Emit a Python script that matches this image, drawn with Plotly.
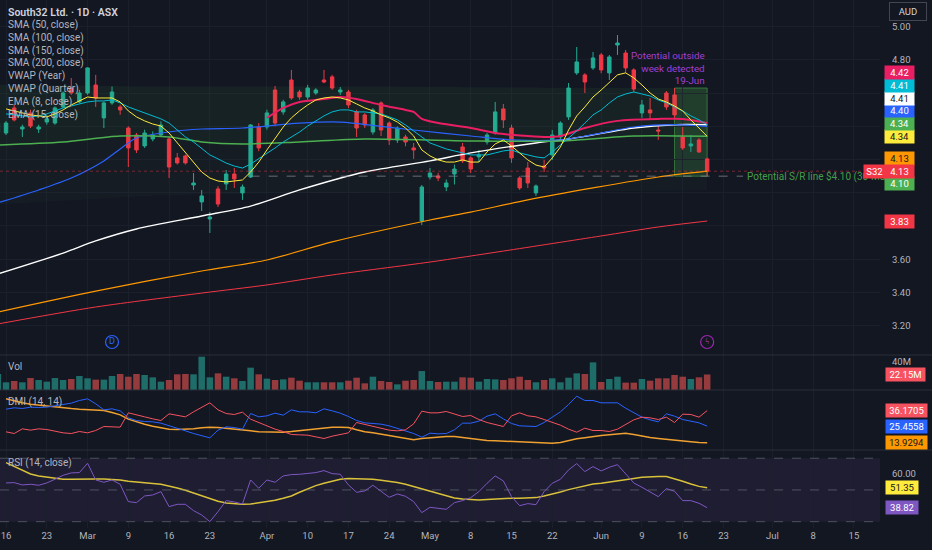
import plotly.graph_objects as go
from plotly.subplots import make_subplots

# ---------------- data ----------------
bar_index = list(range(-1, 87))          # trading-day index, 86 = 19-Jun
ind_index = list(range(0, 87))

opens = [4.366, 4.360, 4.511, 4.384, 4.481, 4.384, 4.426, 4.420, 4.517, 4.631, 4.547,
         4.601, 4.649, 4.451, 4.541, 4.517, 4.390, 4.348, 4.282, 4.324, 4.348,
         4.324, 4.210, 4.222, 4.047, 3.945, 3.842, 4.023, 4.053, 4.113, 3.999,
         4.095, 4.396, 4.396, 4.619, 4.487, 4.679, 4.607, 4.577, 4.601, 4.679,
         4.698, 4.607, 4.607, 4.487, 4.469, 4.366, 4.541, 4.420, 4.318, 4.336,
         4.270, 3.830, 4.095, 4.101, 4.035, 4.113, 4.276, 4.210, 4.216, 4.306,
         4.360, 4.505, 4.390, 4.089, 4.149, 3.999, 4.161, 4.228, 4.336, 4.457,
         4.722, 4.710, 4.752, 4.830, 4.722, 4.890, 4.842, 4.740, 4.481, 4.499,
         4.378, 4.601, 4.589, 4.336, 4.282, 4.318, 4.204]
highs = [4.440, 4.432, 4.530, 4.410, 4.500, 4.410, 4.470, 4.520, 4.610, 4.691, 4.620,
         4.755, 4.710, 4.550, 4.640, 4.530, 4.400, 4.360, 4.380, 4.370, 4.430,
         4.340, 4.240, 4.230, 4.119, 4.017, 3.884, 4.040, 4.137, 4.149, 4.050,
         4.414, 4.420, 4.500, 4.643, 4.560, 4.740, 4.620, 4.650, 4.630, 4.740,
         4.710, 4.637, 4.620, 4.500, 4.480, 4.510, 4.550, 4.430, 4.400, 4.350,
         4.300, 4.047, 4.149, 4.120, 4.080, 4.170, 4.300, 4.220, 4.258, 4.360,
         4.547, 4.535, 4.410, 4.100, 4.185, 4.050, 4.198, 4.378, 4.430, 4.661,
         4.878, 4.720, 4.848, 4.842, 4.830, 4.950, 4.860, 4.750, 4.559, 4.571,
         4.408, 4.613, 4.631, 4.396, 4.348, 4.330, 4.210]
lows = [4.350, 4.348, 4.430, 4.336, 4.390, 4.360, 4.410, 4.410, 4.510, 4.590, 4.540,
        4.590, 4.517, 4.390, 4.530, 4.470, 4.155, 4.240, 4.270, 4.310, 4.340,
        4.089, 4.170, 4.170, 4.017, 3.890, 3.758, 3.914, 4.017, 4.029, 3.957,
        4.089, 4.250, 4.380, 4.400, 4.470, 4.560, 4.560, 4.560, 4.590, 4.660,
        4.620, 4.589, 4.510, 4.336, 4.390, 4.350, 4.342, 4.288, 4.300, 4.280,
        4.204, 3.806, 4.080, 4.070, 4.010, 4.050, 4.180, 4.119, 4.185, 4.290,
        4.350, 4.390, 4.180, 4.017, 4.029, 3.981, 4.125, 4.198, 4.318, 4.439,
        4.710, 4.601, 4.740, 4.720, 4.679, 4.830, 4.722, 4.607, 4.451, 4.439,
        4.318, 4.499, 4.450, 4.258, 4.246, 4.240, 4.100]
closes = [4.420, 4.420, 4.439, 4.396, 4.402, 4.396, 4.445, 4.511, 4.601, 4.601, 4.601,
          4.752, 4.571, 4.541, 4.607, 4.499, 4.270, 4.258, 4.360, 4.348, 4.408,
          4.155, 4.180, 4.180, 4.059, 3.981, 3.854, 3.932, 4.113, 4.083, 4.035,
          4.408, 4.270, 4.481, 4.420, 4.547, 4.571, 4.577, 4.631, 4.619, 4.667,
          4.631, 4.619, 4.529, 4.390, 4.408, 4.499, 4.378, 4.318, 4.390, 4.306,
          4.258, 4.035, 4.119, 4.089, 4.059, 4.143, 4.192, 4.143, 4.228, 4.348,
          4.487, 4.439, 4.210, 4.029, 4.059, 4.041, 4.149, 4.348, 4.420, 4.631,
          4.788, 4.667, 4.812, 4.740, 4.818, 4.902, 4.752, 4.625, 4.529, 4.481,
          4.372, 4.517, 4.469, 4.270, 4.294, 4.246, 4.130]
volume_m = [22.9, 11.0, 12.9, 11.0, 17.1, 14.3, 11.9, 17.1, 14.3, 15.7, 20.0,
            16.7, 14.8, 14.8, 20.0, 22.9, 19.0, 22.9, 21.4, 18.1, 11.9,
            14.3, 22.4, 22.9, 22.4, 47.6, 18.1, 23.8, 19.0, 16.7, 12.9,
            31.9, 22.4, 16.2, 14.3, 15.2, 17.6, 13.3, 11.0, 11.0, 11.0,
            11.0, 11.0, 13.3, 17.6, 9.5, 19.0, 12.9, 11.4, 8.1, 13.3,
            14.3, 27.1, 12.9, 11.4, 11.9, 11.9, 18.1, 17.6, 11.9, 15.7,
            15.2, 14.3, 16.7, 19.0, 14.3, 11.0, 14.3, 16.7, 11.0, 17.6,
            23.8, 22.9, 39.5, 11.4, 15.7, 19.0, 10.5, 10.5, 15.7, 13.3,
            16.7, 16.7, 21.4, 19.0, 15.7, 18.1, 22.15]

ema8 = [4.505, 4.493, 4.481, 4.469, 4.463, 4.457, 4.475, 4.499, 4.529, 4.553,
        4.577, 4.571, 4.571, 4.571, 4.547, 4.493, 4.457, 4.433, 4.414, 4.402,
        4.360, 4.300, 4.240, 4.179, 4.125, 4.089, 4.071, 4.065, 4.071, 4.077,
        4.125, 4.185, 4.258, 4.330, 4.396, 4.451, 4.493, 4.529, 4.559, 4.571,
        4.577, 4.571, 4.559, 4.535, 4.511, 4.493, 4.469, 4.451, 4.426, 4.390,
        4.342, 4.258, 4.222, 4.198, 4.185, 4.185, 4.198, 4.185, 4.185, 4.246,
        4.294, 4.318, 4.282, 4.240, 4.198, 4.167, 4.155, 4.210, 4.276, 4.378,
        4.463, 4.517, 4.577, 4.619, 4.667, 4.710, 4.722, 4.692, 4.649, 4.601,
        4.565, 4.547, 4.523, 4.493, 4.439, 4.390, 4.340]
ema15 = [4.475, 4.469, 4.463, 4.457, 4.463, 4.475, 4.493, 4.511, 4.523, 4.535,
         4.547, 4.553, 4.553, 4.559, 4.541, 4.517, 4.499, 4.481, 4.463, 4.445,
         4.420, 4.378, 4.336, 4.306, 4.264, 4.228, 4.204, 4.179, 4.161, 4.149,
         4.173, 4.204, 4.240, 4.270, 4.306, 4.336, 4.366, 4.402, 4.433, 4.463,
         4.487, 4.499, 4.499, 4.487, 4.487, 4.481, 4.475, 4.457, 4.439, 4.408,
         4.372, 4.336, 4.300, 4.282, 4.264, 4.252, 4.240, 4.228, 4.228, 4.228,
         4.240, 4.252, 4.258, 4.240, 4.228, 4.216, 4.210, 4.246, 4.288, 4.330,
         4.372, 4.420, 4.469, 4.499, 4.541, 4.577, 4.595, 4.607, 4.595, 4.583,
         4.559, 4.541, 4.517, 4.493, 4.463, 4.439, 4.410]

sma50_x = [-1, 4, 8, 12, 14, 16, 20, 24, 29, 36, 41, 46, 50, 57, 62, 68, 72, 77, 82, 86]
sma50_y = [3.939, 4.017, 4.089, 4.192, 4.264, 4.330, 4.366, 4.384, 4.390, 4.420, 4.426,
           4.400, 4.378, 4.342, 4.318, 4.318, 4.350, 4.396, 4.410, 4.400]
sma100_x = [-1, 7, 11, 16, 24, 30, 36, 44, 52, 57, 65, 69, 77, 82, 86]
sma100_y = [3.511, 3.637, 3.710, 3.782, 3.860, 3.920, 4.017, 4.125, 4.192, 4.240,
            4.300, 4.324, 4.390, 4.410, 4.410]
sma150_x = [-1, 11, 24, 32, 40, 52, 57, 64, 72, 80, 86]
sma150_y = [3.282, 3.408, 3.529, 3.595, 3.704, 3.836, 3.884, 3.957, 4.029, 4.095, 4.130]
sma200_x = [-1, 11, 24, 32, 40, 52, 61, 73, 80, 86]
sma200_y = [3.210, 3.312, 3.396, 3.445, 3.505, 3.583, 3.649, 3.740, 3.794, 3.830]
vwap_year_x = [-1, 7, 14, 20, 24, 29, 36, 44, 57, 68, 77, 86]
vwap_year_y = [4.288, 4.306, 4.342, 4.336, 4.306, 4.294, 4.306, 4.324, 4.312, 4.312, 4.342, 4.340]
vwap_band_x = [-1, 10, 20, 32, 45, 60, 75, 86]
vwap_band_upper = [4.650, 4.645, 4.640, 4.640, 4.640, 4.635, 4.632, 4.630]
vwap_band_lower = [3.930, 3.960, 3.985, 3.995, 4.000, 4.005, 4.010, 4.015]
vwap_q_x = [32, 34, 36, 39, 41, 43, 46, 49, 50, 51, 53, 57, 60, 66, 68, 71, 75, 80, 83, 86]
vwap_q_y = [4.451, 4.511, 4.547, 4.565, 4.577, 4.565, 4.529, 4.499, 4.487, 4.445, 4.420,
            4.390, 4.360, 4.336, 4.342, 4.390, 4.433, 4.445, 4.445, 4.420]

dmi_plus = [37.13, 38.05, 37.59, 38.51, 38.28, 38.51, 39.43, 40.35, 41.27, 43.11,
            44.26, 40.81, 36.67, 37.36, 35.98, 31.15, 29.31, 28.62, 28.39, 27.47,
            25.86, 24.25, 22.18, 20.34, 18.73, 17.35, 22.64, 24.94, 24.48, 23.33,
            34.14, 31.84, 32.53, 34.37, 32.99, 36.67, 35.29, 35.29, 34.60, 37.36,
            35.98, 34.37, 32.07, 29.31, 27.70, 27.24, 26.78, 25.63, 24.02, 22.18,
            20.34, 17.81, 20.57, 20.11, 20.34, 22.87, 27.47, 27.47, 28.85, 32.30,
            33.91, 30.46, 27.24, 25.63, 25.40, 25.17, 27.93, 31.61, 35.29, 40.35,
            46.10, 43.11, 43.11, 41.50, 41.50, 41.50, 37.82, 34.83, 31.61, 29.77,
            28.39, 33.91, 32.30, 30.00, 29.08, 27.70, 25.4558]
dmi_minus = [21.49, 20.34, 23.56, 22.64, 23.56, 23.10, 21.95, 20.80, 20.34, 21.72,
             20.80, 22.41, 25.17, 24.71, 24.71, 34.60, 32.99, 31.84, 30.46, 29.31,
             33.91, 32.99, 31.84, 35.29, 38.51, 41.50, 36.67, 34.14, 33.45, 35.06,
             30.23, 27.93, 25.40, 23.33, 21.72, 19.65, 19.42, 19.19, 18.04, 16.89,
             18.50, 19.42, 20.80, 27.93, 26.55, 24.94, 23.56, 22.64, 22.18, 22.87,
             27.01, 35.75, 34.60, 34.60, 35.52, 33.68, 32.07, 32.76, 30.00, 27.93,
             26.55, 25.17, 32.53, 34.60, 32.53, 31.84, 30.00, 28.16, 26.09, 23.33,
             21.26, 24.02, 22.41, 22.41, 21.72, 23.33, 26.55, 29.77, 31.61, 31.15,
             30.00, 31.61, 27.93, 33.68, 33.45, 31.61, 36.1705]
adx = [44.26, 42.65, 41.50, 40.58, 39.89, 39.20, 38.74, 38.05, 37.59, 37.13,
       36.90, 36.67, 36.21, 34.83, 33.22, 30.23, 28.39, 26.78, 25.40, 24.25,
       23.33, 23.10, 23.10, 23.56, 24.25, 24.71, 24.48, 24.02, 23.33, 22.64,
       22.18, 21.49, 21.26, 21.26, 21.26, 21.72, 22.41, 22.87, 23.56, 24.25,
       24.71, 24.71, 24.48, 22.87, 21.49, 20.80, 19.88, 18.96, 18.04, 16.89,
       15.97, 16.89, 17.35, 18.04, 18.27, 18.27, 17.58, 16.89, 15.97, 15.51,
       15.28, 15.05, 14.82, 14.36, 14.13, 13.90, 13.67, 13.67, 14.13, 15.51,
       16.66, 17.35, 18.27, 18.96, 19.42, 20.11, 20.57, 19.65, 18.50, 17.58,
       16.89, 16.20, 15.74, 15.05, 14.59, 14.13, 13.9294]

rsi = [54.42, 54.63, 53.16, 53.58, 52.95, 54.42, 56.74, 59.26, 60.74, 60.95,
       66.84, 56.31, 54.84, 56.31, 53.58, 42.63, 42.00, 46.21, 46.84, 48.95,
       39.47, 40.95, 40.95, 36.95, 34.21, 30.00, 36.32, 43.26, 42.42, 41.16,
       56.31, 51.05, 56.31, 54.84, 58.84, 59.68, 59.89, 60.53, 60.95, 62.21,
       60.31, 59.89, 53.16, 48.53, 49.37, 52.95, 49.16, 45.37, 47.47, 46.00,
       42.63, 35.69, 39.05, 38.21, 37.79, 42.00, 43.26, 45.16, 48.95, 54.21,
       58.84, 55.68, 45.79, 40.11, 41.37, 40.74, 48.95, 54.21, 56.74, 62.63,
       66.63, 61.58, 64.74, 62.00, 64.31, 65.94, 59.89, 54.42, 51.68, 48.95,
       45.79, 50.84, 49.16, 43.26, 43.26, 41.58, 38.82]
rsi_ma = [67.26, 64.74, 62.21, 60.10, 58.84, 58.00, 57.16, 56.74, 56.74, 56.95,
          56.95, 56.95, 56.95, 56.74, 56.31, 55.47, 54.84, 54.42, 54.00, 53.58,
          52.53, 51.26, 49.79, 48.10, 46.42, 44.53, 42.84, 41.79, 41.16, 40.95,
          41.16, 41.79, 42.63, 43.47, 44.74, 46.21, 48.53, 50.63, 52.74, 54.21,
          55.68, 56.74, 57.16, 57.16, 56.95, 56.74, 56.10, 55.47, 54.63, 53.58,
          52.10, 50.63, 49.16, 47.47, 46.21, 44.95, 44.32, 43.90, 43.69, 43.90,
          44.32, 44.74, 44.74, 44.74, 44.95, 45.16, 46.21, 47.26, 48.74, 50.21,
          51.47, 52.74, 53.79, 54.21, 54.84, 55.47, 56.31, 57.16, 58.00, 58.42,
          58.42, 58.42, 57.16, 55.47, 53.74, 52.26, 51.35]

tick_idx = [0, 5, 10, 15, 20, 25, 32, 37, 42, 47, 52, 57, 62, 67, 73, 78, 83, 88, 94, 99, 104]
tick_text = ["16", "23", "Mar", "9", "16", "23", "Apr", "10", "17", "24", "May",
             "8", "15", "22", "Jun", "9", "16", "23", "Jul", "8", "15"]
price_ticks = [3.2, 3.4, 3.6, 3.8, 4.0, 4.2, 4.4, 4.6, 4.8, 5.0]
vol_ticks = [40]
dmi_ticks = [20, 40]
rsi_ticks = [40, 60]

sr_level = 4.10
sr_start_idx = 30          # 30-Mar
week_start_idx = 82        # week of 15-Jun .. 19-Jun
dividend_idx = 13
news_idx = 86

# ---------------- style / geometry ----------------
W, H = 932, 550
ML, MR, MT, MB = 0, 52, 0, 22
PW, PH = W - ML - MR, H - MT - MB
pane_px = [355, 35, 60, 78]
X_RANGE = [-0.74, 107.2]
Y_MAIN = [3.023, 5.161]
Y_VOL = [0, 50]
Y_DMI = [8.97, 50.34]
Y_RSI = [26.0, 75.2]

BG = "#131722"
GRID = "#1b1f2b"
TXT = "#b2b5be"
UP, DN = "#22ab94", "#f23645"
FONT = "Roboto"

fig = make_subplots(rows=4, cols=1, shared_xaxes=True, vertical_spacing=0,
                    row_heights=pane_px)

def line(x, y, color, width=1.0, shape="linear", row=1, **kw):
    fig.add_trace(go.Scatter(x=x, y=y, mode="lines", hoverinfo="skip", showlegend=False,
                             line=dict(color=color, width=width, shape=shape,
                                       smoothing=0.8 if shape == "spline" else None), **kw),
                  row=row, col=1)

# VWAP band fills
line(vwap_band_x, vwap_band_upper, "rgba(0,0,0,0)", 0, "spline")
line(vwap_year_x, vwap_year_y, "rgba(0,0,0,0)", 0, "spline",
     fill="tonexty", fillcolor="rgba(76,175,80,0.075)")
line(vwap_band_x, vwap_band_lower, "rgba(0,0,0,0)", 0, "spline",
     fill="tonexty", fillcolor="rgba(76,175,80,0.035)")

# candles
fig.add_trace(go.Candlestick(x=bar_index, open=opens, high=highs, low=lows, close=closes,
                             increasing=dict(line=dict(color=UP, width=1), fillcolor=UP),
                             decreasing=dict(line=dict(color=DN, width=1), fillcolor=DN),
                             whiskerwidth=0, hoverinfo="skip", showlegend=False), row=1, col=1)

# moving averages / vwaps
line(sma200_x, sma200_y, "#f23645", 1.0, "spline")
line(sma150_x, sma150_y, "#ff9800", 1.2, "spline")
line(sma100_x, sma100_y, "#ffffff", 1.4, "spline")
line(sma50_x, sma50_y, "#2962ff", 1.2, "spline")
line(vwap_year_x, vwap_year_y, "#4caf50", 1.5, "spline")
line(vwap_q_x, vwap_q_y, "#e91e63", 2.0, "spline")
line(ind_index, ema15, "#00bcd4", 1.0)
line(ind_index, ema8, "#ffeb3b", 1.0)

# event markers
ev_y = Y_MAIN[0] + 13 * (Y_MAIN[1] - Y_MAIN[0]) / pane_px[0]
fig.add_trace(go.Scatter(x=[dividend_idx, news_idx], y=[ev_y, ev_y], mode="markers+text",
                         marker=dict(symbol="circle-open", size=13, color=["#2962ff", "#9c27b0"],
                                     line=dict(width=1.2)),
                         text=["D", "ϟ"], textposition="middle center",
                         textfont=dict(family=FONT, size=9, color=["#2962ff", "#ab47bc"]),
                         hoverinfo="skip", showlegend=False), row=1, col=1)

# volume
vol_colors = ["rgba(38,166,154,0.6)" if c >= o else "rgba(239,83,80,0.6)"
              for o, c in zip(opens, closes)]
fig.add_trace(go.Bar(x=bar_index, y=volume_m, marker=dict(color=vol_colors, line=dict(width=0)),
                     hoverinfo="skip", showlegend=False), row=2, col=1)

# DMI
line(ind_index, adx, "#f0a030", 1.5, row=3)
line(ind_index, dmi_plus, "#2962ff", 1.0, row=3)
line(ind_index, dmi_minus, "#f7525f", 1.0, row=3)

# RSI
line(ind_index, rsi_ma, "#d9c23a", 1.5, row=4)
line(ind_index, rsi, "#7e57c2", 1.0, row=4)

# ---------------- right-hand value labels (stacked like TradingView) ----------------
def to_px(v, rng, top, h):
    return top + (rng[1] - v) / (rng[1] - rng[0]) * h

pane_top = [0, pane_px[0], pane_px[0] + pane_px[1], pane_px[0] + pane_px[1] + pane_px[2]]
px_per_unit = pane_px[0] / (Y_MAIN[1] - Y_MAIN[0])
gap = 12.7 / px_per_unit
series_labels = [
    (vwap_q_y[-1], "#e91e63", "#ffffff"),
    (ema15[-1], "#00bcd4", "#ffffff"),
    (sma100_y[-1], "#ffffff", "#131722"),
    (sma50_y[-1], "#2962ff", "#ffffff"),
    (vwap_year_y[-1], "#4caf50", "#ffffff"),
    (ema8[-1], "#ffeb3b", "#131722"),
    (sma150_y[-1], "#ff9800", "#131722"),
    (sr_level, "#4caf50", "#ffffff"),
    (sma200_y[-1], "#f23645", "#ffffff"),
]
anchor = closes[-1]
above = [l for l in series_labels if l[0] >= anchor]
below = [l for l in series_labels if l[0] < anchor]
placed = []
pos = anchor
for v, bg, fg in reversed(above):
    pos = max(v, pos + gap)
    placed.append((pos, v, bg, fg))
pos = anchor
for v, bg, fg in below:
    pos = min(v, pos - gap)
    placed.append((pos, v, bg, fg))
placed.append((anchor, anchor, DN, "#ffffff"))

dmi_items = sorted([(dmi_minus[-1], "#f7525f", "#ffffff"), (dmi_plus[-1], "#2962ff", "#ffffff"),
                    (adx[-1], "#ff9800", "#131722")], reverse=True)
dmi_gap = 13 / (pane_px[2] / (Y_DMI[1] - Y_DMI[0]))
dmi_placed = []
dpos = None
for v, bg, fg in dmi_items:
    dpos = v if dpos is None else min(v, dpos - dmi_gap)
    dmi_placed.append((dpos, v, bg, fg))

def visible_ticks(ticks, label_pos, rng, top, h, min_px=8):
    lab_px = [to_px(p, rng, top, h) for p in label_pos]
    return [t for t in ticks if all(abs(to_px(t, rng, top, h) - lp) >= min_px for lp in lab_px)]

main_keep = visible_ticks(price_ticks, [p[0] for p in placed], Y_MAIN, 0, pane_px[0], 9.5)
vol_keep = visible_ticks(vol_ticks, [volume_m[-1]], Y_VOL, pane_top[1], pane_px[1])
dmi_keep = visible_ticks(dmi_ticks, [p[0] for p in dmi_placed], Y_DMI, pane_top[2], pane_px[2])
rsi_keep = visible_ticks(rsi_ticks, [rsi[-1], rsi_ma[-1]], Y_RSI, pane_top[3], pane_px[3])

# ---------------- axes ----------------
for r in range(1, 5):
    fig.update_xaxes(range=X_RANGE, tickvals=tick_idx, ticktext=tick_text, showgrid=True,
                     gridcolor=GRID, gridwidth=1, zeroline=False, showline=False, ticks="",
                     showticklabels=(r == 4), tickfont=dict(family=FONT, size=9.5, color=TXT),
                     fixedrange=True, row=r, col=1)
fig.update_layout(xaxis_rangeslider_visible=False)

yax = dict(side="right", zeroline=False, showline=False, ticks="", ticklabelstandoff=11,
           tickfont=dict(family=FONT, size=9.5, color=TXT), fixedrange=True)
fig.update_yaxes(range=Y_MAIN, tickvals=price_ticks, ticktext=[f"{v:.2f}" if v in main_keep else ""
                                                                for v in price_ticks],
                 showgrid=True, gridcolor=GRID, row=1, col=1, **yax)
fig.update_yaxes(range=Y_VOL, tickvals=vol_keep, ticktext=[f"{v:g}M" for v in vol_keep],
                 showgrid=False, row=2, col=1, **yax)
fig.update_yaxes(range=Y_DMI, tickvals=dmi_keep, ticktext=[f"{v:.4f}" for v in dmi_keep],
                 showgrid=False, row=3, col=1, **yax)
fig.update_yaxes(range=Y_RSI, tickvals=rsi_keep, ticktext=[f"{v:.2f}" for v in rsi_keep],
                 showgrid=False, row=4, col=1, **yax)

# ---------------- shapes ----------------
shapes = []
for t in pane_top[1:]:
    shapes.append(dict(type="line", xref="paper", yref="paper", x0=0, x1=W / PW,
                       y0=1 - t / PH, y1=1 - t / PH, line=dict(color="#2a2e39", width=1)))
shapes.append(dict(type="rect", xref="x4", yref="y4", x0=X_RANGE[0], x1=X_RANGE[1], y0=30, y1=70,
                   fillcolor="rgba(126,87,194,0.10)", line=dict(width=0), layer="below"))
for lvl in (30, 50, 70):
    shapes.append(dict(type="line", xref="x4", yref="y4", x0=X_RANGE[0], x1=X_RANGE[1], y0=lvl, y1=lvl,
                       line=dict(color="rgba(120,123,134,0.55)", width=1, dash="dash")))
shapes.append(dict(type="line", xref="x", yref="y", x0=X_RANGE[0], x1=X_RANGE[1],
                   y0=closes[-1], y1=closes[-1], line=dict(color="rgba(242,54,69,0.45)", width=1, dash="dot")))
shapes.append(dict(type="line", xref="x", yref="y", x0=sr_start_idx, x1=news_idx + 4.4,
                   y0=sr_level, y1=sr_level, line=dict(color="rgba(140,143,154,0.7)", width=1, dash="dash")))
wk = slice(bar_index.index(week_start_idx), bar_index.index(news_idx) + 1)
wk_hi, wk_lo = max(highs[wk]), min(lows[wk])
shapes.append(dict(type="rect", xref="x", yref="y", x0=week_start_idx, x1=news_idx, y0=wk_lo, y1=wk_hi,
                   fillcolor="rgba(76,175,80,0.20)", line=dict(color="rgba(76,175,80,0.55)", width=1),
                   layer="below"))

# ---------------- annotations ----------------
ann = []
def txt(text, xp, yp, size=10, color=TXT, weight=None, xanchor="left"):
    f = dict(family=FONT, size=size, color=color)
    if weight:
        f["weight"] = weight
    ann.append(dict(text=text, xref="paper", yref="paper", x=xp / PW, y=1 - yp / PH,
                    xanchor=xanchor, yanchor="middle", showarrow=False, font=f))

legend_lines = ["SMA (50, close)", "SMA (100, close)", "SMA (150, close)", "SMA (200, close)",
                "VWAP (Year)", "VWAP (Quarter)", "EMA (8, close)", "EMA (15, close)"]
txt("South32 Ltd. · 1D · ASX", 6, 12.3, 10.5, "#d1d4dc", 600)
for k, s in enumerate(legend_lines):
    txt(s, 6, 25 + 12.8 * k, 10, TXT)
txt("Vol", 6, 366, 10)
txt("DMI (14, 14)", 6, 402, 10)
txt("RSI (14, close)", 6, 463, 10)

ann.append(dict(text="Potential outside<br>week detected<br>19-Jun", x=news_idx, y=wk_hi,
                xref="x", yref="y", xanchor="right", yanchor="bottom", align="right",
                yshift=0, showarrow=False, font=dict(family=FONT, size=9.8, color="#a23fd0")))
ann.append(dict(text=f"Potential S/R line ${sr_level:.2f} (30-Mar)", x=news_idx + 4.7, y=sr_level,
                xref="x", yref="y", xanchor="left", yanchor="middle", showarrow=False,
                font=dict(family=FONT, size=10, color="rgba(76,175,80,0.9)")))

LX = (PW + 19.5) / PW
for p, v, bg, fg in placed:
    ann.append(dict(text=f"{v:.2f}", x=LX, y=p, xref="paper", yref="y", xanchor="center",
                    yanchor="middle", showarrow=False, bgcolor=bg, width=27, height=11, borderpad=1,
                    font=dict(family=FONT, size=9.5, color=fg)))
ann.append(dict(text="S32", x=(PW - 5.5) / PW, y=anchor, xref="paper", yref="y", xanchor="center",
                yanchor="middle", showarrow=False, bgcolor=DN, width=19, height=11, borderpad=1,
                font=dict(family=FONT, size=9.5, color="#ffffff")))

def pane_label(text, value, yref, bg, fg, width):
    ann.append(dict(text=text, x=(PW + 6 + width / 2 + 1) / PW, y=value, xref="paper", yref=yref,
                    xanchor="center", yanchor="middle", showarrow=False, bgcolor=bg, width=width,
                    height=11, borderpad=1, font=dict(family=FONT, size=9.5, color=fg)))

pane_label(f"{volume_m[-1]:.2f}M", volume_m[-1], "y2", "#f7525f", "#ffffff", 37)
for p, v, bg, fg in dmi_placed:
    pane_label(f"{v:.4f}", p, "y3", bg, fg, 39)
pane_label(f"{rsi_ma[-1]:.2f}", rsi_ma[-1], "y4", "#ffeb3b", "#131722", 30)
pane_label(f"{rsi[-1]:.2f}", rsi[-1], "y4", "#7e57c2", "#ffffff", 30)

ann.append(dict(text="AUD", x=(PW + 28) / PW, y=1 - 12 / PH, xref="paper", yref="paper",
                xanchor="center", yanchor="middle", showarrow=False, bgcolor=BG,
                bordercolor="#434651", borderwidth=1, borderpad=3, width=30,
                font=dict(family=FONT, size=9.5, color="#d1d4dc")))

fig.update_layout(width=W, height=H, margin=dict(l=ML, r=MR, t=MT, b=MB),
                  paper_bgcolor=BG, plot_bgcolor=BG, showlegend=False, hovermode=False,
                  bargap=0.2, boxgap=0.4, shapes=shapes, annotations=ann,
                  font=dict(family=FONT, color=TXT))

fig.write_html("out.html", config={"displayModeBar": False, "staticPlot": True},
               post_script="document.body.style.margin='0';document.body.style.overflow='hidden';"
                           "document.body.style.background='#131722';")
